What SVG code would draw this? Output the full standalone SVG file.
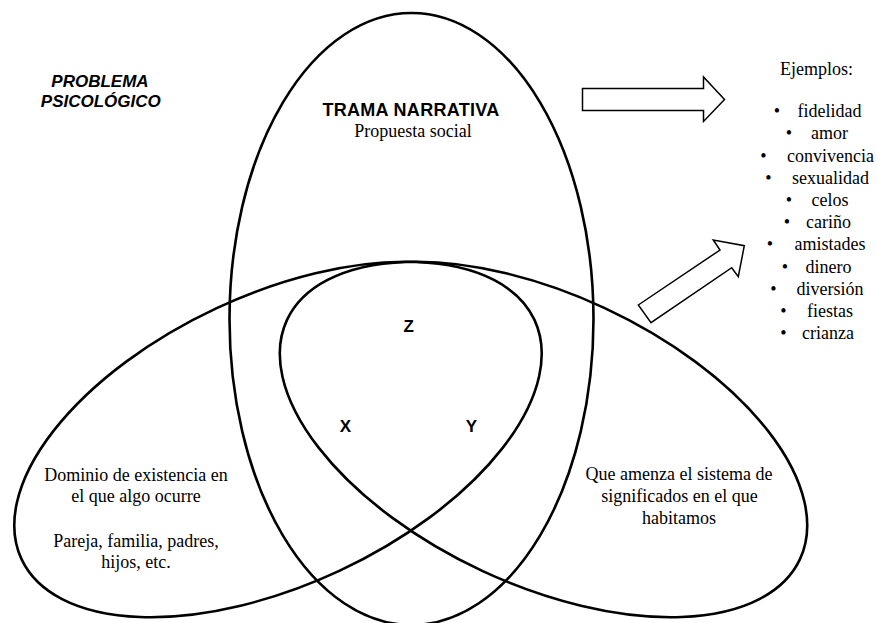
<svg xmlns="http://www.w3.org/2000/svg" width="878" height="623" viewBox="0 0 878 623">
<style>
.sh{fill:none;stroke:#000;stroke-width:2.6}
.ar{fill:#fff;stroke:#000;stroke-width:1.5;stroke-linejoin:miter}
.tm{font-family:"Liberation Serif","Times New Roman",serif;font-size:18px;fill:#000}
.c{text-anchor:middle}
.hd{font-family:"Liberation Sans",Arial,sans-serif;font-weight:bold;fill:#000}
</style>
<rect width="878" height="623" fill="#fff"/>
<g id="trama">
<ellipse class="sh" cx="411.5" cy="319" rx="182" ry="306"/>
<text class="hd c" x="411" y="115.5" font-size="18" letter-spacing="0.3">TRAMA NARRATIVA</text>
<text class="tm c" x="413" y="137">Propuesta social</text>
</g>
<g id="dominio">
<ellipse class="sh" cx="278" cy="439.5" rx="283" ry="145" transform="rotate(-25 278 439.5)"/>
<text class="tm c" x="136" y="481">Dominio de existencia en</text>
<text class="tm c" x="136" y="502">el que algo ocurre</text>
<text class="tm c" x="136" y="547">Pareja, familia, padres,</text>
<text class="tm c" x="136" y="568">hijos, etc.</text>
</g>
<g id="amenaza">
<ellipse class="sh" cx="543.5" cy="439.5" rx="283" ry="145" transform="rotate(25 543.5 439.5)"/>
<text class="tm c" x="679" y="480">Que amenza el sistema de</text>
<text class="tm c" x="679.5" y="502">significados en el que</text>
<text class="tm c" x="679" y="524">habitamos</text>
</g>
<g id="problema">
<text class="hd c" x="100" y="87.3" font-size="17" font-style="italic">PROBLEMA</text>
<text class="hd c" x="100.8" y="106.7" font-size="17" font-style="italic">PSICOLÓGICO</text>
</g>
<g id="zona-z"><text class="hd c" x="408.8" y="331.7" font-size="17">Z</text></g>
<g id="zona-x"><text class="hd c" x="345.4" y="432" font-size="17">X</text></g>
<g id="zona-y"><text class="hd c" x="471.3" y="432" font-size="17">Y</text></g>
<g id="ejemplos" class="tm">
<text class="c" x="816.5" y="75">Ejemplos:</text>
<g class="c">
<text x="777" y="117">•</text><text x="829.5" y="117">fidelidad</text>
<text x="789" y="139.2">•</text><text x="829.5" y="139.2">amor</text>
<text x="763.5" y="161.5">•</text><text x="830.5" y="161.5">convivencia</text>
<text x="768.5" y="183.7">•</text><text x="830.5" y="183.7">sexualidad</text>
<text x="789" y="205.9">•</text><text x="830" y="205.9">celos</text>
<text x="787" y="228.2">•</text><text x="828.5" y="228.2">cariño</text>
<text x="770" y="250.4">•</text><text x="830" y="250.4">amistades</text>
<text x="785" y="272.6">•</text><text x="828.5" y="272.6">dinero</text>
<text x="773.5" y="294.8">•</text><text x="830" y="294.8">diversión</text>
<text x="783.5" y="317.1">•</text><text x="830" y="317.1">fiestas</text>
<text x="783.5" y="339.3">•</text><text x="828" y="339.3">crianza</text>
</g>
</g>
<g id="connectors">
<polygon class="ar" points="582.5,88.5 703.5,88.5 703.5,77 724.5,99.5 703.5,121.5 703.5,110.5 582.5,110.5"/>
<polygon class="ar" points="638.3,305 720,250 713.3,240 744.3,245.7 738.3,276.7 731.7,267.7 651,322.7"/>
</g>
</svg>
